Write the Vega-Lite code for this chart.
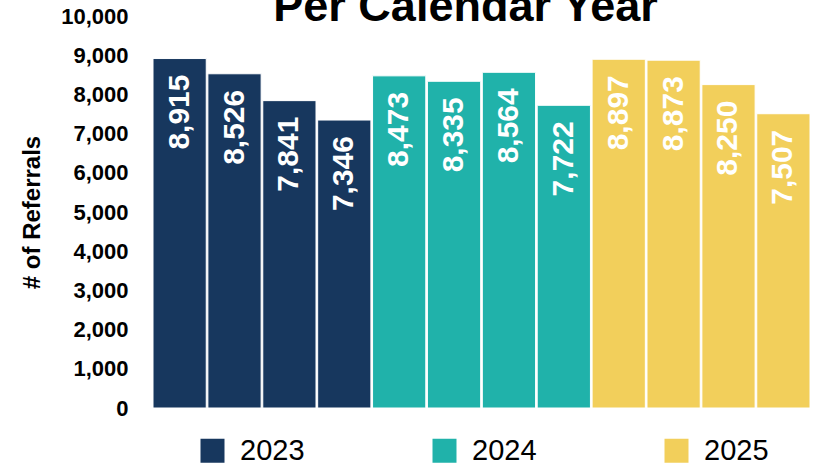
{
  "$schema": "https://vega.github.io/schema/vega-lite/v6.json",
  "autosize": {"type": "none"},
  "width": 657,
  "height": 392,
  "padding": {"left": 153, "top": 16, "right": 10, "bottom": 59},
  "background": "white",
  "view": {"stroke": null},
  "title": {
    "text": "Per Calendar Year",
    "font": "Liberation Sans",
    "fontSize": 45,
    "fontWeight": "bold",
    "color": "#000000",
    "anchor": "middle",
    "frame": "group",
    "baseline": "alphabetic",
    "offset": 0,
    "dy": 61,
    "dx": -16
  },
  "data": {
    "values": [
      {"period": "2023 Q1", "year": "2023", "referrals": 8915},
      {"period": "2023 Q2", "year": "2023", "referrals": 8526},
      {"period": "2023 Q3", "year": "2023", "referrals": 7841},
      {"period": "2023 Q4", "year": "2023", "referrals": 7346},
      {"period": "2024 Q1", "year": "2024", "referrals": 8473},
      {"period": "2024 Q2", "year": "2024", "referrals": 8335},
      {"period": "2024 Q3", "year": "2024", "referrals": 8564},
      {"period": "2024 Q4", "year": "2024", "referrals": 7722},
      {"period": "2025 Q1", "year": "2025", "referrals": 8897},
      {"period": "2025 Q2", "year": "2025", "referrals": 8873},
      {"period": "2025 Q3", "year": "2025", "referrals": 8250},
      {"period": "2025 Q4", "year": "2025", "referrals": 7507}
    ]
  },
  "encoding": {
    "x": {
      "field": "period",
      "type": "nominal",
      "sort": null,
      "axis": null,
      "scale": {"paddingInner": 0.03, "paddingOuter": 0}
    },
    "y": {
      "field": "referrals",
      "type": "quantitative",
      "scale": {"domain": [0, 10000], "nice": false},
      "axis": {
        "title": "# of Referrals",
        "titleFont": "Liberation Sans",
        "titleFontSize": 24,
        "titleFontWeight": "bold",
        "titleColor": "#000000",
        "titleX": -109,
        "values": [0, 1000, 2000, 3000, 4000, 5000, 6000, 7000, 8000, 9000, 10000],
        "format": ",d",
        "labelFont": "Liberation Sans",
        "labelFontSize": 22,
        "labelFontWeight": "bold",
        "labelColor": "#000000",
        "labelPadding": 25,
        "ticks": false,
        "domain": false,
        "grid": false
      }
    }
  },
  "layer": [
    {
      "mark": {"type": "bar", "stroke": "white", "strokeWidth": 1},
      "encoding": {
        "color": {
          "field": "year",
          "type": "nominal",
          "scale": {"domain": ["2023", "2024", "2025"], "range": ["#17375E", "#20B2AA", "#F2CF5B"]},
          "legend": {
            "title": null,
            "orient": "none",
            "legendX": 45,
            "legendY": 420,
            "direction": "horizontal",
            "columns": 3,
            "columnPadding": 125,
            "symbolType": "square",
            "symbolSize": 576,
            "symbolStrokeWidth": 0,
            "symbolOpacity": 1,
            "labelFont": "Liberation Sans",
            "labelFontSize": 29,
            "labelColor": "#000000",
            "labelOffset": 13,
            "labelLimit": 200
          }
        }
      }
    },
    {
      "mark": {
        "type": "text",
        "angle": 270,
        "align": "right",
        "baseline": "middle",
        "dx": -16,
        "font": "Liberation Sans",
        "fontSize": 30,
        "fontWeight": "bold",
        "color": "white"
      },
      "encoding": {
        "text": {"field": "referrals", "type": "quantitative", "format": ",d"}
      }
    }
  ]
}
